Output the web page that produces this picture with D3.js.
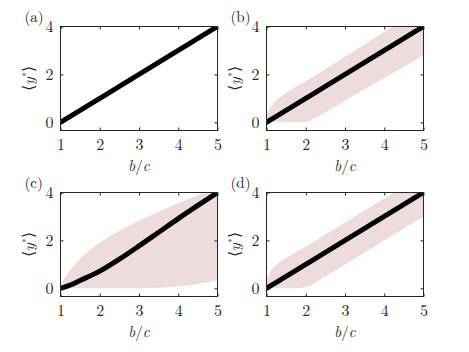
<!DOCTYPE html>
<html>
<head>
<meta charset="utf-8">
<script src="https://cdn.jsdelivr.net/npm/d3@7"></script>
<style>
  html, body { margin: 0; padding: 0; background: #fff; }
  svg { display: block; }
</style>
</head>
<body>
<svg id="chart" width="469" height="352"></svg>
<script>
// values
var panelNames = ['(a)', '(b)', '(c)', '(d)'];
var bc = [1, 1.1, 1.25, 1.5, 2, 2.5, 3, 3.5, 4, 4.5, 5];
var xTicks = [1, 2, 3, 4, 5];
var yTicks = [0, 2, 4];

var meanA = [0, 0.1, 0.25, 0.5, 1, 1.5, 2, 2.5, 3, 3.5, 4];
var meanB = [0, 0.1, 0.25, 0.5, 1, 1.5, 2, 2.5, 3, 3.5, 4];
var upperB = [0.28, 0.62, 0.92, 1.24, 1.72, 2.22, 2.74, 3.26, 3.78, 4.3, 4.8];
var lowerB = [0, 0, 0, 0, 0.03, 0.42, 0.9, 1.38, 1.85, 2.32, 2.8];
var meanC = [0, 0.05, 0.14, 0.33, 0.72, 1.22, 1.77, 2.34, 2.91, 3.46, 4];
var upperC = [0.05, 0.42, 0.76, 1.22, 1.9, 2.4, 2.82, 3.2, 3.56, 3.9, 4.2];
var lowerC = [0, 0, 0, 0, 0, 0, 0, 0.02, 0.08, 0.18, 0.35];
var meanD = [0, 0.1, 0.25, 0.5, 1, 1.5, 2, 2.5, 3, 3.5, 4];
var upperD = [0.32, 0.72, 0.98, 1.27, 1.75, 2.25, 2.75, 3.25, 3.75, 4.25, 4.75];
var lowerD = [0, 0, 0, 0, 0.05, 0.5, 1.0, 1.5, 2.0, 2.5, 3.0];

var FONT = "'Latin Modern Roman', 'Liberation Serif', serif";

var App = {};

App.main = function() {
  App.svg = d3.select('#chart');
  App.w = 157;
  App.h = 104;

  var series = [
    { mean: meanA },
    { mean: meanB, upper: upperB, lower: lowerB },
    { mean: meanC, upper: upperC, lower: lowerC },
    { mean: meanD, upper: upperD, lower: lowerD }
  ];
  var spots = [[60.5, 26.5], [266.5, 26.5], [60.5, 192.5], [266.5, 192.5]];

  series.forEach(function(s, i) {
    App.drawPanel(s, i, spots[i][0], spots[i][1]);
  });

  App.svg.selectAll('text')
    .style('font-family', FONT)
    .attr('fill', '#262626');
}

App.drawPanel = function(s, i, left, top) {
  var x = d3.scaleLinear().domain([1, 5]).range([0, App.w]);
  var y = d3.scaleLinear().domain([-0.34, 4]).range([App.h, 0]);

  var g = App.svg.append('g').attr('transform', 'translate(' + left + ',' + top + ')');

  g.append('clipPath').attr('id', 'clip' + i)
    .append('rect').attr('width', App.w).attr('height', App.h);

  var plot = g.append('g').attr('clip-path', 'url(#clip' + i + ')');

  if (s.upper) {
    var area = d3.area()
      .curve(d3.curveMonotoneX)
      .x(function(d, k) { return x(bc[k]); })
      .y0(function(d, k) { return y(s.lower[k]); })
      .y1(function(d) { return y(d); });
    plot.append('path')
      .datum(s.upper)
      .attr('d', area)
      .attr('fill', '#eedcdc');
  }

  var line = d3.line()
    .curve(d3.curveMonotoneX)
    .x(function(d, k) { return x(bc[k]); })
    .y(function(d) { return y(d); });
  plot.append('path')
    .datum(s.mean)
    .attr('d', line)
    .attr('fill', 'none')
    .attr('stroke', '#000')
    .attr('stroke-width', 5)
    .attr('stroke-linecap', 'round');

  // inside ticks on all four sides
  var ax = [
    d3.axisBottom(x).tickValues(xTicks).tickSize(-3).tickFormat(d3.format('d')),
    d3.axisTop(x).tickValues(xTicks).tickSize(-3).tickFormat(''),
    d3.axisLeft(y).tickValues(yTicks).tickSize(-3).tickFormat(d3.format('d')),
    d3.axisRight(y).tickValues(yTicks).tickSize(-3).tickFormat('')
  ];
  var shift = ['0,' + App.h, '0,0', '0,0', App.w + ',0'];
  ax.forEach(function(a, k) {
    var ag = g.append('g').attr('transform', 'translate(' + shift[k] + ')').call(a);
    ag.attr('font-size', 16);
    ag.select('.domain').remove();
    ag.selectAll('line').attr('stroke', '#262626');
    if (k === 0) ag.selectAll('text').attr('y', 8.5);
    if (k === 2) ag.selectAll('text').attr('x', -7);
  });

  g.append('rect')
    .attr('width', App.w).attr('height', App.h)
    .attr('fill', 'none').attr('stroke', '#262626').attr('stroke-width', 1);

  g.append('text')
    .attr('x', App.w / 2).attr('y', App.h + 40)
    .attr('text-anchor', 'middle').attr('font-size', 15)
    .html('<tspan font-style="italic">b</tspan>/<tspan font-style="italic">c</tspan>');

  g.append('text')
    .attr('transform', 'translate(-27,' + (App.h / 2) + ') rotate(-90)')
    .attr('text-anchor', 'middle').attr('font-size', 16)
    .html('⟨<tspan font-style="italic">y</tspan><tspan dy="-5" font-size="10">*</tspan><tspan dy="5">⟩</tspan>');

  g.append('text')
    .attr('x', -36).attr('y', -5)
    .attr('font-size', 15)
    .text(panelNames[i]);
}

App.main();
</script>
</body>
</html>
